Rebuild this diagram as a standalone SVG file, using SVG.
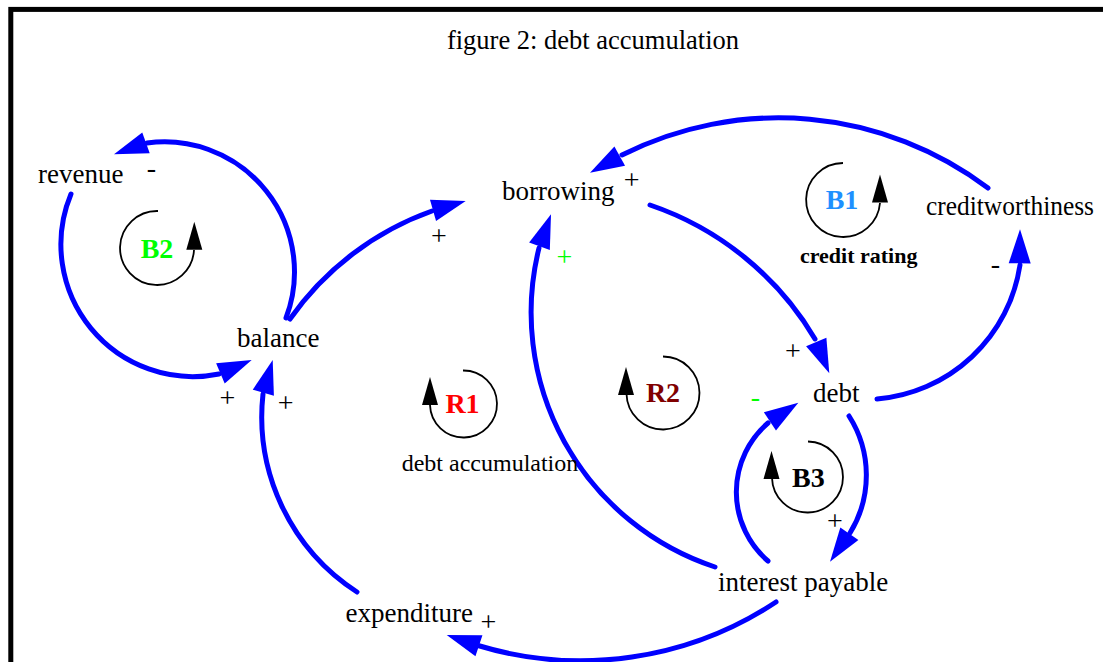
<svg xmlns="http://www.w3.org/2000/svg" xmlns:xlink="http://www.w3.org/1999/xlink" width="1103" height="662" viewBox="0 0 1103 662">
<style>
  .node { font-family: "Liberation Serif", "Times New Roman", serif; font-size: 27px; fill: #000; }
  .title { font-family: "Liberation Serif", "Times New Roman", serif; font-size: 26.5px; fill: #000; }
  .link { fill: none; stroke: #0000ff; stroke-width: 5; stroke-linecap: round; }
  .ah { fill: #0000ff; }
  .pol { font-family: "Liberation Serif", "Times New Roman", serif; font-size: 28px; fill: #000; text-anchor: middle; }
  .pol.g { fill: #00ff00; }
  .loop { fill: none; stroke: #000; stroke-width: 1.8; }
  .lah { fill: #000; }
  .lid { font-family: "Liberation Serif", "Times New Roman", serif; font-size: 28px; font-weight: bold; text-anchor: middle; }
  .lname { font-family: "Liberation Serif", "Times New Roman", serif; fill: #000; }
</style>
<defs>
  <path id="ah" d="M0,0 L-34,-11 L-34,11 Z"/>
  <path id="lah" d="M0,0 L-28,-8 L-28,8 Z"/>
</defs>
<rect x="0" y="0" width="1103" height="662" fill="#fff"/>
<rect x="10.8" y="9.4" width="1200" height="800" fill="none" stroke="#000" stroke-width="5"/>
<text class="title" x="593" y="49.3" text-anchor="middle">figure 2: debt accumulation</text>

<g id="connectors">
  <path class="link" d="M286,318 A130,130 0 0 0 147,143"/>
  <use xlink:href="#ah" class="ah" transform="translate(114,154.3) rotate(160.2)"/>
  <path class="link" d="M71,194 A132,132 0 0 0 219,374"/>
  <use xlink:href="#ah" class="ah" transform="translate(251.7,360) rotate(-23)"/>
  <path class="link" d="M290,319 A294,294 0 0 1 432,211"/>
  <use xlink:href="#ah" class="ah" transform="translate(465.7,201) rotate(-16)"/>
  <path class="link" d="M650,205 A306,306 0 0 1 815,339"/>
  <use xlink:href="#ah" class="ah" transform="translate(829.3,373.3) rotate(67.4)"/>
  <path class="link" d="M877,399 A158,158 0 0 0 1020,265"/>
  <use xlink:href="#ah" class="ah" transform="translate(1020,229.3) rotate(-89.5)"/>
  <path class="link" d="M988,188 A348,348 0 0 0 622,155"/>
  <use xlink:href="#ah" class="ah" transform="translate(590,172.7) rotate(151)"/>
  <path class="link" d="M849,416 A110,110 0 0 1 850,533"/>
  <use xlink:href="#ah" class="ah" transform="translate(830,561.7) rotate(124.7)"/>
  <path class="link" d="M768,561 A91,91 0 0 1 768,423"/>
  <use xlink:href="#ah" class="ah" transform="translate(798.3,402.7) rotate(-33.4)"/>
  <path class="link" d="M715,567 A268,268 0 0 1 539,248"/>
  <use xlink:href="#ah" class="ah" transform="translate(551,214.3) rotate(-70.2)"/>
  <path class="link" d="M776,602 A354,354 0 0 1 478,645.5"/>
  <use xlink:href="#ah" class="ah" transform="translate(446.7,635) rotate(-161.5)"/>
  <path class="link" d="M357,592 A209,209 0 0 1 263,394"/>
  <use xlink:href="#ah" class="ah" transform="translate(272.7,360) rotate(-74)"/>

  <text class="pol" x="151.5" y="176.5">-</text>
  <text class="pol" x="227.5" y="407">+</text>
  <text class="pol" x="285.7" y="411.5">+</text>
  <text class="pol" x="439" y="244.5">+</text>
  <text class="pol" x="631.7" y="189">+</text>
  <text class="pol g" x="564.5" y="266">+</text>
  <text class="pol" x="995.5" y="272.5">-</text>
  <text class="pol" x="793" y="360">+</text>
  <text class="pol g" x="755.5" y="406">-</text>
  <text class="pol" x="835" y="530">+</text>
  <text class="pol" x="488.3" y="631">+</text>
</g>

<g id="revenue"><text class="node" x="38" y="183">revenue</text></g>
<g id="balance"><text class="node" x="237" y="347">balance</text></g>
<g id="borrowing"><text class="node" x="502" y="200">borrowing</text></g>
<g id="creditworthiness"><text class="node" x="926" y="215" textLength="168" lengthAdjust="spacingAndGlyphs">creditworthiness</text></g>
<g id="debt"><text class="node" x="813" y="401.7">debt</text></g>
<g id="interest_payable"><text class="node" x="718" y="590.7">interest payable</text></g>
<g id="expenditure"><text class="node" x="345.5" y="621.7">expenditure</text></g>

<g id="loop_B2">
  <path class="loop" d="M158,211 A37,37 0 1 0 194,250"/>
  <use xlink:href="#lah" class="lah" transform="translate(194.3,221.7) rotate(-90)"/>
  <text class="lid" x="157" y="257.7" fill="#00ff00">B2</text>
</g>
<g id="loop_B1">
  <path class="loop" d="M843,163 A37,37 0 1 0 880,203"/>
  <use xlink:href="#lah" class="lah" transform="translate(880,174.5) rotate(-90)"/>
  <text class="lid" x="842" y="209.3" fill="#1e90ff">B1</text>
  <text class="lname" x="858.7" y="263.3" font-size="22" font-weight="bold" text-anchor="middle">credit rating</text>
</g>
<g id="loop_R1">
  <path class="loop" d="M463,370.5 A33.5,33.5 0 1 1 430,405"/>
  <use xlink:href="#lah" class="lah" transform="translate(430,377) rotate(-90)"/>
  <text class="lid" x="462.5" y="412.7" fill="#ff0000">R1</text>
  <text class="lname" x="401.7" y="470.7" font-size="24">debt accumulation</text>
</g>
<g id="loop_R2">
  <path class="loop" d="M663,356.5 A36.5,36.5 0 1 1 626.5,394"/>
  <use xlink:href="#lah" class="lah" transform="translate(626,367) rotate(-90)"/>
  <text class="lid" x="663" y="401.7" fill="#800000">R2</text>
</g>
<g id="loop_B3">
  <path class="loop" d="M808,441.5 A35.5,35.5 0 1 1 772,478"/>
  <use xlink:href="#lah" class="lah" transform="translate(771.5,451) rotate(-90)"/>
  <text class="lid" x="808.3" y="486.7" fill="#000">B3</text>
</g>
</svg>
